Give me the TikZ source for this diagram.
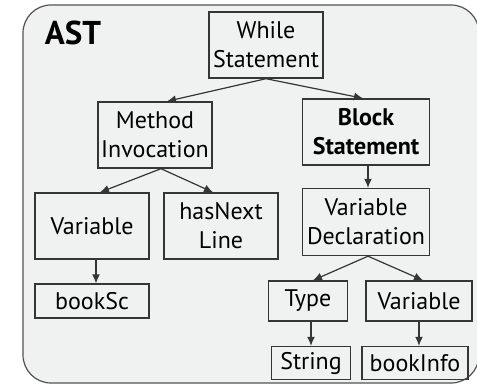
\documentclass[tikz,border=0pt]{standalone}
\usepackage{fontspec}
\setmainfont{PT Sans}
\usetikzlibrary{positioning,arrows.meta}
\usepackage{xcolor}
\definecolor{astbg}{HTML}{F0F1F1}
\definecolor{astline}{HTML}{353535}

\begin{document}
\begin{tikzpicture}[x=0.5pt,y=-0.5pt,>={Latex[length=4.5pt,width=4pt]},
  box/.style={draw=astline,line width=0.7pt,align=center,inner sep=0pt,
    font=\fontsize{12}{14.5}\selectfont},
  edge/.style={->,draw=astline,line width=0.6pt}]
\useasboundingbox (0,0) rectangle (477,385);
\draw[fill=astbg,draw=astline!85,line width=0.6pt,rounded corners=14pt] (23,5) rectangle (479,383);
\node[font=\bfseries\fontsize{16.5}{18}\selectfont] (ast) at (73,33) {AST};
\node[box,minimum width=57pt,minimum height=33pt] (while) at (266,45) {While\\Statement};
\node[box,minimum width=57pt,minimum height=33pt] (meth) at (155,135) {Method\\Invocation};
\node[box,minimum width=63.5pt,minimum height=33pt,font=\bfseries\fontsize{12}{14.5}\selectfont] (block) at (366,132) {Block\\Statement};
\node[box,minimum width=57pt,minimum height=33pt] (var) at (92,226) {Variable};
\node[box,minimum width=57pt,minimum height=33pt] (next) at (221,226) {hasNext\\Line};
\node[box,minimum width=63.5pt,minimum height=33.5pt] (decl) at (366,222) {Variable\\Declaration};
\node[box,minimum width=57pt,minimum height=17pt] (sc) at (92,301) {bookSc};
\node[box,minimum width=39.5pt,minimum height=20pt] (type) at (308,301) {Type};
\node[box,minimum width=53pt,minimum height=20pt] (var2) at (419,301) {Variable};
\node[box,minimum width=39.5pt,minimum height=16.5pt] (str) at (311,363) {String};
\node[box,minimum width=53pt,minimum height=16.5pt] (info) at (415,363) {bookInfo};
\draw[edge] (while.south) -- ([xshift=6pt]meth.north);
\draw[edge] (while.south) -- ([xshift=-1.5pt]block.north);
\draw[edge] ([xshift=3pt]meth.south) -- ([xshift=4pt]var.north);
\draw[edge] ([xshift=3pt]meth.south) -- ([xshift=-4pt]next.north);
\draw[edge] ([xshift=1pt]block.south) -- ([xshift=1pt]decl.north);
\draw[edge] ([xshift=1pt]decl.south) -- ([xshift=2.5pt]type.north);
\draw[edge] ([xshift=1pt]decl.south) -- ([xshift=2pt]var2.north);
\draw[edge] ([xshift=2pt]var.south) -- ([xshift=2pt]sc.north);
\draw[edge] ([xshift=1.5pt]type.south) -- (str.north);
\draw[edge] (var2.south) -- ([xshift=2pt]info.north);
\end{tikzpicture}
\end{document}
